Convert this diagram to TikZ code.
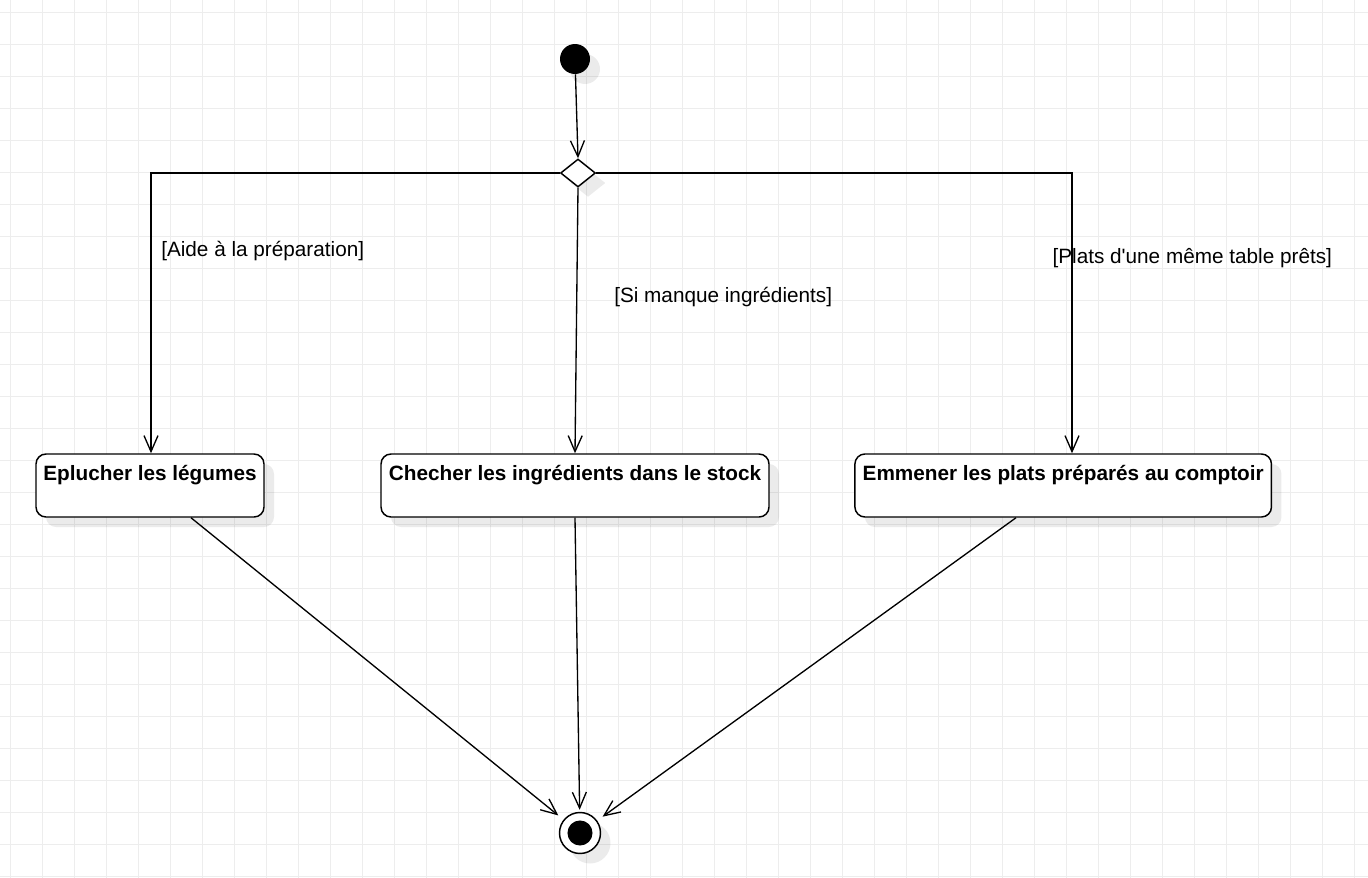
\documentclass[tikz,border=0pt]{standalone}
\usepackage{fontspec}
\setmainfont{Liberation Sans}
\usetikzlibrary{arrows.meta,shapes.geometric,calc,shadows}
\begin{document}
\begin{tikzpicture}[x=0.75pt,y=-0.75pt,
  gridline/.style={draw=black!7, line width=0.75pt},
  softshadow/.style={drop shadow={shadow xshift=7.5pt, shadow yshift=-7.5pt, fill=black, opacity=0.08}},
  flow/.style={line width=1pt, -{Straight Barb[length=12pt,width=10.5pt,line width=1pt]}},
  actbox/.style={draw, fill=white, line width=1.1pt, rounded corners=7.5pt,
    minimum height=47.25pt, inner sep=0pt, softshadow},
  boxtext/.style={font=\fontsize{15.55}{18}\selectfont\bfseries, anchor=base, inner sep=0pt},
  guard/.style={font=\fontsize{15.55}{18}\selectfont, anchor=base west, inner sep=0pt},
  initial/.style={circle, fill=black, minimum size=22.5pt, inner sep=0pt, softshadow},
  decision/.style={diamond, draw, fill=white, line width=1.1pt, minimum width=26.25pt,
    minimum height=21pt, inner sep=0pt, softshadow},
  final/.style={circle, draw, fill=white, line width=1.1pt, minimum size=30.75pt,
    inner sep=0pt, softshadow}
]
% page and background grid
\fill[white] (0,0) rectangle (1368,878);
\useasboundingbox (0,0) rectangle (1368,878);
\foreach \x in {10,42,...,1354} \draw[gridline] (\x,0) -- (\x,878);
\foreach \y in {12,44,...,876} \draw[gridline] (0,\y) -- (1368,\y);

% control nodes
\node[initial] (start) at (575,59) {};
\node[decision] (dec) at (578,173) {};
\node[final] (fin) at (580,833) {};
\fill (fin.center) circle[radius=9.4pt];

% activities
\node[actbox, minimum width=171pt] (b1) at (150,485.5) {};
\node[actbox, minimum width=291pt] (b2) at (575,485.5) {};
\node[actbox, minimum width=312.4pt] (b3) at (1063.2,485.5) {};
\node[boxtext] (t1) at ($(b1.north)+(0,27.5)$) {Eplucher les légumes};
\node[boxtext] (t2) at ($(b2.north)+(0,27.5)$) {Checher les ingrédients dans le stock};
\node[boxtext] (t3) at ($(b3.north)+(0,27.5)$) {Emmener les plats préparés au comptoir};

% guards
\node[guard] (g1) at (161,256) {[Aide à la préparation]};
\node[guard] (g2) at (614,302.7) {[Si manque ingrédients]};
\node[guard] (g3) at (1052.3,263.3) {[Plats d\textquotesingle une même table prêts]};

% flows
\draw[flow] (start) -- (dec.north);
\draw[flow] (dec.west) -| ($(b1.north)+(1,0)$);
\draw[flow] (dec.south) -- (b2.north);
\draw[flow] (dec.east) -| ($(b3.north)+(8.8,0)$);
\draw[flow, shorten >=5pt] ($(b1.south)+(41,0)$) -- (fin);
\draw[flow, shorten >=1.5pt] (b2.south) -- (fin);
\draw[flow, shorten >=5pt] ($(b3.south)+(-47.2,0)$) -- (fin);
\end{tikzpicture}
\end{document}
